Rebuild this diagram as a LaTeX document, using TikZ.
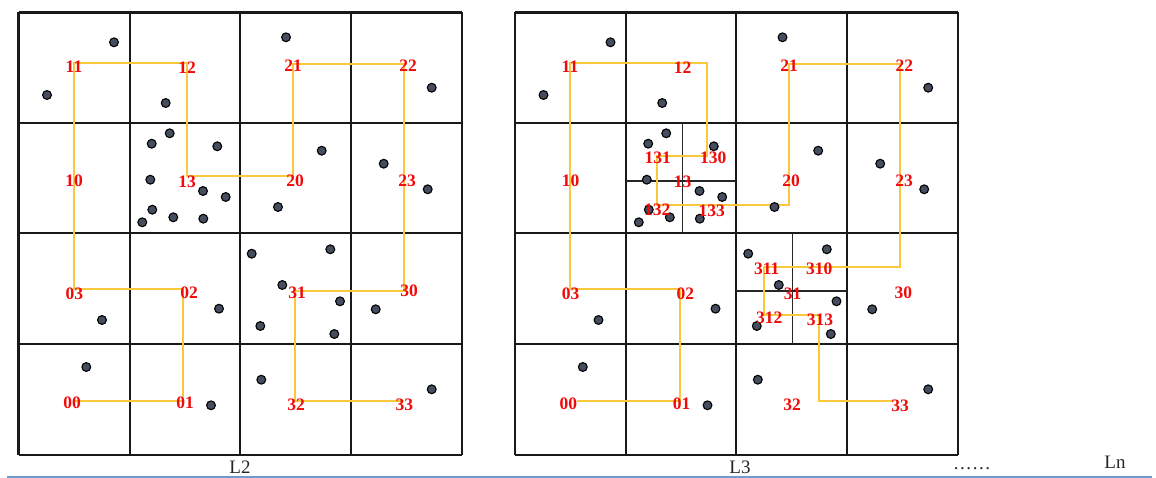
\documentclass[tikz,border=0pt]{standalone}
\usepackage{fontspec}
\setmainfont{Liberation Serif}
\definecolor{curve}{RGB}{250,200,60}
\definecolor{dotfill}{RGB}{68,78,94}
\definecolor{baseblue}{RGB}{110,155,210}
\definecolor{labred}{RGB}{240,10,10}
\tikzset{
  gridline/.style={line width=2.2pt, black!90},
  subline/.style={line width=1.4pt, black!85},
  curveline/.style={line width=2.1pt, curve},
  pt/.style={fill=dotfill, draw=black, line width=1.1pt},
  lab/.style={text=labred, font=\fontsize{17.5}{17.5}\selectfont\bfseries, inner sep=0pt},
  captxt/.style={font=\fontsize{19}{19}\selectfont, inner sep=0pt, text=black!85},
}
\begin{document}
\begin{tikzpicture}[x=1pt,y=-1pt]
\useasboundingbox (0,0) rectangle (1156,478);
% ---------- grids ----------
\foreach \gx in {18.5,129.7,240,351,461.7} {\draw[gridline] (\gx,12.5) -- (\gx,455);}
\foreach \gy in {12.5,122.7,233.3,344.3,455} {\draw[gridline] (18.5,\gy) -- (461.7,\gy);}
\foreach \gx in {515,625.7,736.3,847.3,957.7} {\draw[gridline] (\gx,12.5) -- (\gx,455);}
\foreach \gy in {12.5,122.7,233.3,344.3,455} {\draw[gridline] (515,\gy) -- (957.7,\gy);}
% subdivisions in L3
\draw[subline] (682.3,122.7) -- (682.3,233.3);
\draw[subline] (625.7,181) -- (736.3,181);
\draw[subline] (792.7,233.3) -- (792.7,344.3);
\draw[subline] (736.3,291) -- (847.3,291);
% ---------- L2 curve ----------
\coordinate (a00) at (74,400.7);
\coordinate (a01) at (183.3,400.7);
\coordinate (a02) at (183.3,289);
\coordinate (a03) at (74,289);
\coordinate (a11) at (74,62.7);
\coordinate (a12) at (187.3,62.7);
\coordinate (a13) at (187.3,175.7);
\coordinate (a20) at (293.3,175.7);
\coordinate (a21) at (293.3,64.3);
\coordinate (a22) at (404.3,64.3);
\coordinate (a30) at (404.3,290.7);
\coordinate (a31) at (295,290.7);
\coordinate (a32) at (295,400.7);
\coordinate (a33) at (404.3,400.7);
\draw[curveline] (a00) -- (a01) -- (a02) -- (a03) -- (a11) -- (a12) -- (a13) -- (a20) -- (a21) -- (a22) -- (a30) -- (a31) -- (a32) -- (a33);
% ---------- L3 curve ----------
\coordinate (b00) at (576.7,401);
\coordinate (b01) at (680.3,401);
\coordinate (b02) at (680.3,289);
\coordinate (b03) at (570,289);
\coordinate (b11) at (570,62.7);
\coordinate (b12) at (707.3,62.7);
\coordinate (b130) at (707.3,155.7);
\coordinate (b131) at (656.7,155.7);
\coordinate (b132) at (656.7,204.7);
\coordinate (b20) at (789,204.7);
\coordinate (b21) at (789,64.3);
\coordinate (b22) at (900,64.3);
\coordinate (b30) at (900,266.7);
\coordinate (b311) at (764.3,266.7);
\coordinate (b312) at (764.3,315.3);
\coordinate (b313) at (819.3,315.3);
\coordinate (b33a) at (819.3,401);
\coordinate (b33) at (893.3,401);
\draw[curveline] (b00) -- (b01) -- (b02) -- (b03) -- (b11) -- (b12) -- (b130) -- (b131) -- (b132) -- (b20) -- (b21) -- (b22) -- (b30) -- (b311) -- (b312) -- (b313) -- (b33a) -- (b33);
% ---------- points ----------
\foreach \sx in {0,496.5} {
\begin{scope}[shift={(\sx,0)}]
\foreach \px/\py in {114/42.3, 47/95, 165.7/103, 169.7/133.3, 151.7/143.7, 217.3/146.3,
  150.3/179.7, 203/191, 225.7/197, 152.3/209.7, 142.3/222.3, 173.3/217.3, 203.3/218.7,
  286/37.3, 321.7/150.7, 278/207, 431.7/87.7, 383.7/163.7, 427.7/189.3,
  251.7/253.7, 330.3/249.3, 282.3/285, 340/301.3, 260.3/326, 334.3/334, 375.7/309.3,
  219/308.7, 102/320, 86.3/367, 211/405.3, 261.3/379.7, 431.7/389.3}
  {\filldraw[pt] (\px,\py) circle (4.4);}
\end{scope}
}
% ---------- L2 labels ----------
\node[lab] (l00) at (72,403) {00};
\node[lab] (l01) at (185,403) {01};
\node[lab] (l02) at (189,293) {02};
\node[lab] (l03) at (74.3,293.3) {03};
\node[lab] (l10) at (74,181) {10};
\node[lab] (l11) at (74,67) {11};
\node[lab] (l12) at (187,68) {12};
\node[lab] (l13) at (187,182) {13};
\node[lab] (l20) at (295,181) {20};
\node[lab] (l21) at (293,66) {21};
\node[lab] (l22) at (408,66) {22};
\node[lab] (l23) at (407,181) {23};
\node[lab] (l30) at (409,290.7) {30};
\node[lab] (l31) at (297,293) {31};
\node[lab] (l32) at (296,404.3) {32};
\node[lab] (l33) at (404.3,405) {33};
% ---------- L3 labels ----------
\node[lab] (m00) at (568.3,404) {00};
\node[lab] (m01) at (681.7,403.3) {01};
\node[lab] (m02) at (685.3,293.3) {02};
\node[lab] (m03) at (570.7,293.3) {03};
\node[lab] (m10) at (570.7,181) {10};
\node[lab] (m11) at (570,66.7) {11};
\node[lab] (m12) at (682.7,67.7) {12};
\node[lab] (m13) at (682.7,181.7) {13};
\node[lab] (m130) at (713.3,157.3) {130};
\node[lab] (m131) at (657.7,157.3) {131};
\node[lab] (m132) at (657.3,210) {132};
\node[lab] (m133) at (711.7,211) {133};
\node[lab] (m20) at (791,181) {20};
\node[lab] (m21) at (789,66) {21};
\node[lab] (m22) at (904.3,66) {22};
\node[lab] (m23) at (904,181) {23};
\node[lab] (m30) at (903.3,292.7) {30};
\node[lab] (m31) at (792.7,293.3) {31};
\node[lab] (m310) at (819.3,268.5) {310};
\node[lab] (m311) at (766.7,269) {311};
\node[lab] (m312) at (769.3,317.7) {312};
\node[lab] (m313) at (820,319.3) {313};
\node[lab] (m32) at (792,404.3) {32};
\node[lab] (m33) at (900,405.7) {33};
% ---------- captions ----------
\node[captxt] (capL2) at (240,467) {L2};
\node[captxt] (capL3) at (740,467) {L3};
\node[captxt, anchor=base] (capdots) at (972,469) {\addfontfeature{LetterSpace=8}......};
\node[captxt] (capLn) at (1115,462) {Ln};
\coordinate (bl) at (7,476.8);
\coordinate (br) at (1152,476.8);
\draw[baseblue, line width=1.6pt] (bl) -- (br);
\end{tikzpicture}
\end{document}
